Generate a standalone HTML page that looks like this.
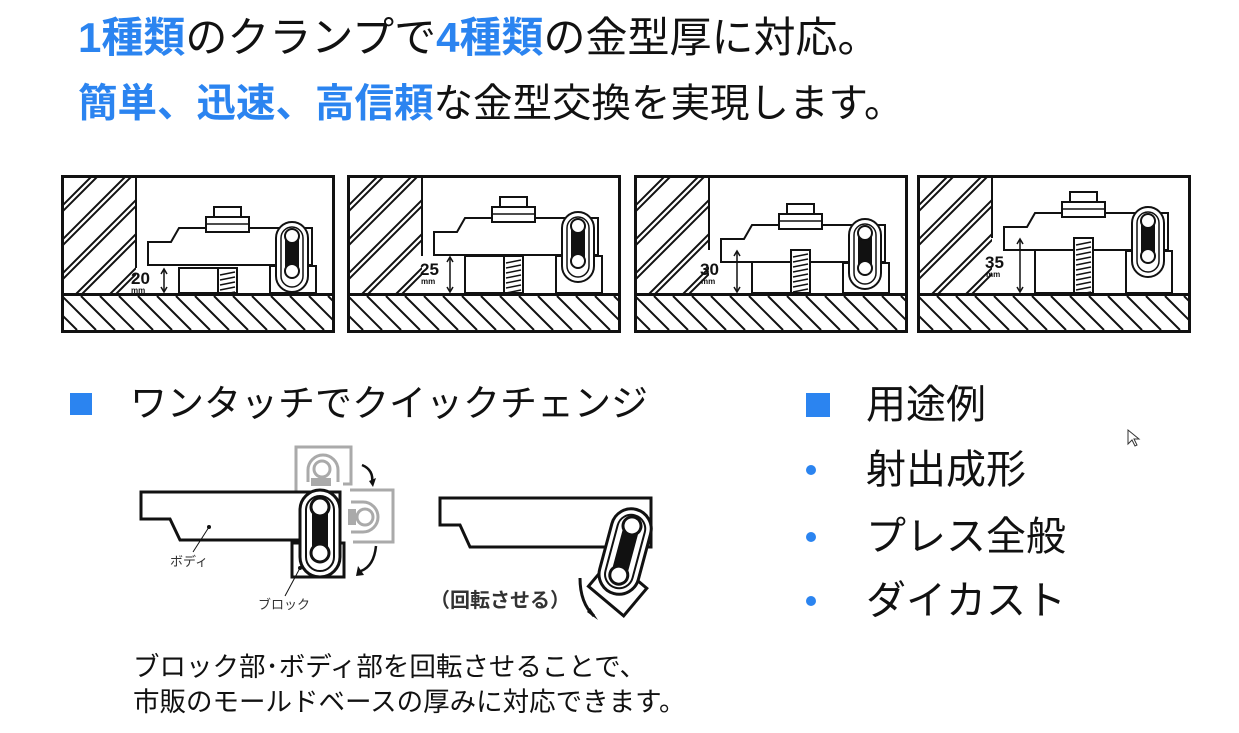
<!DOCTYPE html>
<html><head><meta charset="utf-8">
<style>
body{margin:0;background:#fff;width:1239px;height:733px;overflow:hidden;position:relative;font-family:"Liberation Sans","Noto Sans CJK JP",sans-serif;}
.t{position:absolute;white-space:nowrap;color:#111;}
.b{color:#2b84f0;font-weight:bold;}
svg{position:absolute;left:0;top:0;}
</style></head><body>
<div class="t" style="left:78px;top:14px;font-size:42px;line-height:48px;"><span class="b">1種類</span>のクランプで<span class="b">4種類</span>の金型厚に対応。</div>
<div class="t" style="left:78px;top:81px;font-size:39.5px;line-height:46px;"><span class="b">簡単、迅速、高信頼</span>な金型交換を実現します。</div>

<div style="position:absolute;left:70px;top:393px;width:22px;height:22px;background:#2b84f0"></div>
<div class="t" style="left:130px;top:382px;font-size:37px;line-height:44px;">ワンタッチでクイックチェンジ</div>
<div style="position:absolute;left:806px;top:393px;width:24px;height:24px;background:#2b84f0"></div>
<div class="t" style="left:866px;top:382px;font-size:40px;line-height:46px;">用途例</div>
<div style="position:absolute;left:806px;top:465px;width:10px;height:10px;border-radius:5px;background:#2b84f0"></div>
<div style="position:absolute;left:806px;top:532px;width:10px;height:10px;border-radius:5px;background:#2b84f0"></div>
<div style="position:absolute;left:806px;top:596px;width:10px;height:10px;border-radius:5px;background:#2b84f0"></div>
<div class="t" style="left:866px;top:447px;font-size:40px;line-height:46px;">射出成形</div>
<div class="t" style="left:866px;top:514px;font-size:40px;line-height:46px;">プレス全般</div>
<div class="t" style="left:866px;top:578px;font-size:40px;line-height:46px;">ダイカスト</div>

<div class="t" style="left:133px;top:652px;font-size:26.5px;line-height:31px;">ブロック部･ボディ部を回転させることで、</div>
<div class="t" style="left:133px;top:687px;font-size:26.5px;line-height:31px;">市販のモールドベースの厚みに対応できます。</div>

<svg id="s" width="1239" height="733" viewBox="0 0 1239 733">
<defs><clipPath id="c"><rect x="0" y="0" width="72" height="115"/></clipPath><clipPath id="f"><rect x="0" y="118" width="268" height="34"/></clipPath></defs>
<g id="panels"></g>
<g font-family="Liberation Sans,sans-serif" font-weight="bold" fill="#111">
<text x="131" y="284" font-size="17">20</text><text x="131" y="293" font-size="8">mm</text>
<text x="420" y="275" font-size="17">25</text><text x="421" y="284" font-size="8">mm</text>
<text x="700" y="275" font-size="17">30</text><text x="701" y="284" font-size="8">mm</text>
<text x="985" y="268" font-size="17">35</text><text x="986" y="277" font-size="8">mm</text>
</g>
<g fill="none" stroke="#aaa" stroke-width="3">
<path d="M296 492 V447 H351 V484 H343"/>
<path d="M308 482 V470 a15 15 0 0 1 30 0 V482"/>
<circle cx="322" cy="469" r="8"/>
<path d="M350 490 H393 V542 H353"/>
<path d="M351 502 H363 a15 15 0 0 1 0 30 H351"/>
<circle cx="365" cy="517" r="8"/>
</g>
<rect x="311" y="478" width="20" height="8" fill="#aaa"/>
<rect x="348" y="509" width="8" height="16" fill="#aaa"/>
<g fill="none" stroke="#111" stroke-width="3">
<path d="M141 492 H340 V540 H180 L170 519 H141 Z" fill="#fff"/>
<rect x="292" y="543" width="52" height="34" fill="#fff"/>
<rect x="300" y="490" width="40" height="87" rx="20" fill="#fff"/>
<rect x="306" y="496" width="28" height="75" rx="14" fill="#fff" stroke-width="2"/>
<path d="M362 465 q12 5 10 18" stroke-width="2.5"/>
<path d="M376 546 q-2 20 -15 25" stroke-width="2.5"/>
<path d="M580 578 q0 25 14 38" stroke-width="3"/>
<path d="M440 498 H651 V547 H470 L460 525 H440 Z" fill="#fff"/>
</g>
<rect x="312" y="505" width="16" height="55" fill="#111"/>
<circle cx="320" cy="507" r="9" fill="#fff" stroke="#111" stroke-width="3"/>
<circle cx="320" cy="553" r="9" fill="#fff" stroke="#111" stroke-width="3"/>
<polygon points="369,481 376,478 373,487" fill="#111"/>
<polygon points="358,566 364,575 356,576" fill="#111"/>
<polygon points="587,612 598,620 590,608" fill="#111"/>
<g transform="rotate(15 625 552)">
<rect x="604" y="570" width="46" height="36" fill="#fff" stroke="#111" stroke-width="3" transform="rotate(25 627 588)"/>
<rect x="605" y="508" width="40" height="87" rx="20" fill="#fff" stroke="#111" stroke-width="3"/>
<rect x="611" y="514" width="28" height="75" rx="14" fill="#fff" stroke="#111" stroke-width="2"/>
<rect x="617" y="523" width="16" height="55" fill="#111"/>
<circle cx="625" cy="525" r="9" fill="#fff" stroke="#111" stroke-width="3"/>
<circle cx="625" cy="576" r="9" fill="#fff" stroke="#111" stroke-width="3"/>
</g>
<g stroke="#111" stroke-width="1"><line x1="209" y1="527" x2="193" y2="552"/><line x1="300" y1="568" x2="285" y2="596"/></g>
<circle cx="209" cy="527" r="2" fill="#111"/><circle cx="300" cy="568" r="2" fill="#111"/>
<text x="170" y="566" font-size="13" font-family="Liberation Sans,Noto Sans CJK JP,sans-serif" fill="#333">ボディ</text>
<text x="258" y="609" font-size="13" font-family="Liberation Sans,Noto Sans CJK JP,sans-serif" fill="#333">ブロック</text>
<text x="430" y="607" font-size="20" font-weight="bold" font-family="Liberation Sans,Noto Sans CJK JP,sans-serif" fill="#333">（回転させる）</text>
<path d="M1128 430 v14 l4 -4 l3 6 l2 -1 l-3 -6 h5 z" fill="#fff" stroke="#333" stroke-width="1"/>
</svg>
<script>
var P=[[61,90,0],[347,78,-10],[634,72,-3],[917,60,-15]],h='';
P.forEach(function(p){
 var x0=p[0]+3,y0=178,mb=p[1],d=p[2],g='<g transform="translate('+x0+','+y0+')"><g clip-path="url(#c)" stroke="#111" fill="none">';
 for(var i=-160;i<120;i+=34){g+='<line x1="'+i+'" y1="152" x2="'+(i+160)+'" y2="-8" stroke-width="2"/>';g+='<line x1="'+(i+6)+'" y1="152" x2="'+(i+166)+'" y2="-8" stroke-width="2"/>';}
 g+='</g><rect x="0" y="115" width="268" height="3" fill="#111"/>';
 g+='<g clip-path="url(#f)" stroke="#111" stroke-width="2">';
 for(var i=-40;i<300;i+=19){g+='<line x1="'+i+'" y1="118" x2="'+(i+34)+'" y2="152"/>';}
 g+='</g>';
 g+='<path d="M72 0 V'+mb+'" stroke="#111" stroke-width="2" fill="none"/>';
 g+='<g stroke="#111" stroke-width="2" fill="#fff">';
 g+='<rect x="115" y="'+mb+'" width="58" height="'+(115-mb)+'"/>';
 g+='<path d="M84 '+(64+d)+' H107 L115 '+(50+d)+' H248 V'+(87+d)+' H84 Z"/>';
 g+='<rect x="154" y="'+mb+'" width="19" height="'+(115-mb)+'" fill="#fff"/>';
 g+='<rect x="206" y="'+(88+d)+'" width="46" height="'+(27-d)+'"/>';
 g+='<rect x="142" y="'+(39+d)+'" width="43" height="15"/><rect x="150" y="'+(29+d)+'" width="27" height="10"/>';
 g+='<rect x="212" y="'+(44+d)+'" width="32" height="70" rx="16"/><rect x="217" y="'+(49+d)+'" width="22" height="60" rx="11" stroke-width="1.5"/>';
 g+='</g><line x1="142" y1="'+(46+d)+'" x2="185" y2="'+(46+d)+'" stroke="#111" stroke-width="1.5"/><rect x="221" y="'+(57+d)+'" width="14" height="38" fill="#111"/>';
 g+='<circle cx="228" cy="'+(58+d)+'" r="7" fill="#fff" stroke="#111" stroke-width="2"/><circle cx="228" cy="'+(93+d)+'" r="7" fill="#fff" stroke="#111" stroke-width="2"/>';
 g+='<g stroke="#111" stroke-width="1.5">';for(var k=mb+4;k<115;k+=5){g+='<line x1="156" y1="'+(k+3)+'" x2="171" y2="'+k+'"/>';}g+='</g>';
 g+='<line x1="100" y1="'+(mb+2)+'" x2="100" y2="113" stroke="#111" stroke-width="1.5"/><path d="M97 '+(mb+6)+' L100 '+(mb+1)+' L103 '+(mb+6)+' M97 109 L100 114 L103 109" stroke="#111" fill="none" stroke-width="1.5"/>';
 g+='<rect x="-1.5" y="-1.5" width="271" height="155" fill="none" stroke="#111" stroke-width="3"/></g>';
 h+=g;});
document.getElementById('panels').innerHTML=h;
</script>
</body></html>
